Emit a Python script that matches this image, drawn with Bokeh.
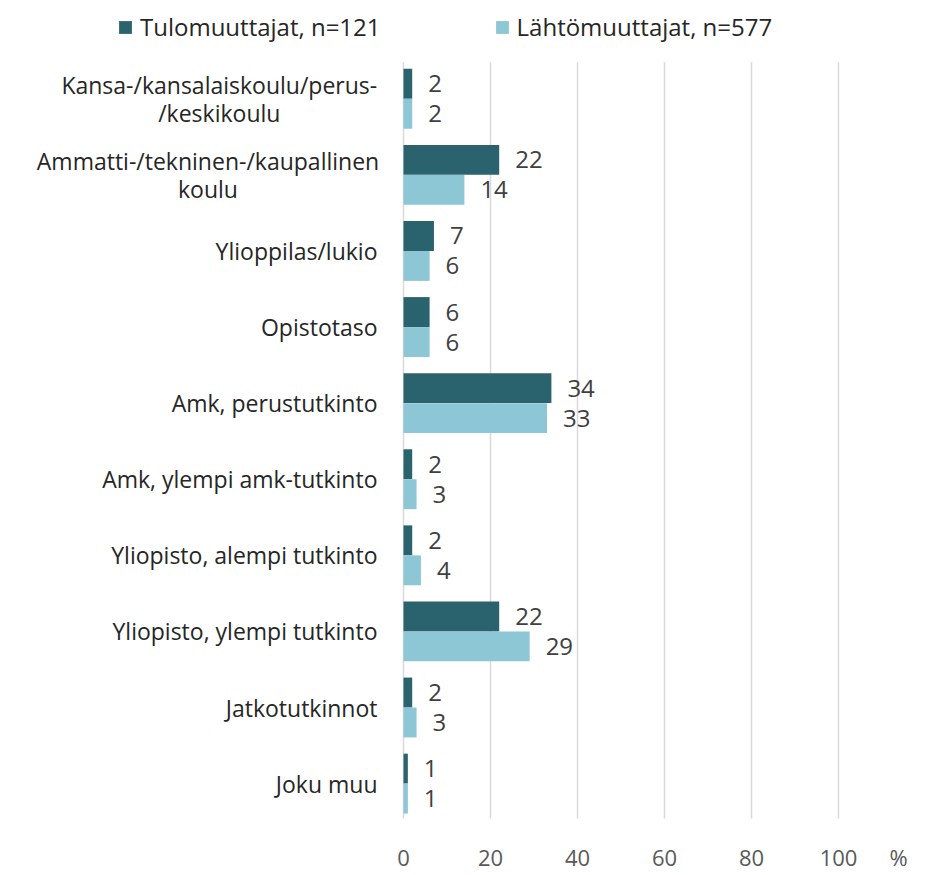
from bokeh.plotting import figure
from bokeh.models import (ColumnDataSource, Range1d, FixedTicker, Legend, LegendItem)
from bokeh.core.properties import value
from bokeh.embed import file_html
from bokeh.resources import INLINE

categories = [
    "Kansa-/kansalaiskoulu/perus-\n/keskikoulu",
    "Ammatti-/tekninen-/kaupallinen\nkoulu",
    "Ylioppilas/lukio",
    "Opistotaso",
    "Amk, perustutkinto",
    "Amk, ylempi amk-tutkinto",
    "Yliopisto, alempi tutkinto",
    "Yliopisto, ylempi tutkinto",
    "Jatkotutkinnot",
    "Joku muu",
]
tulo = [2, 22, 7, 6, 34, 2, 2, 22, 2, 1]
lahto = [2, 14, 6, 6, 33, 3, 4, 29, 3, 1]
series_names = ["Tulomuuttajat, n=121", "Lähtömuuttajat, n=577"]
ticks = [0, 20, 40, 60, 80, 100]
unit_label = "%"

DARK = "#2A636E"
LIGHT = "#8DC6D4"
FONT = "Open Sans"

W, H = 928, 874
PX_PER_UNIT = 4.35
X0_PX = 403
BORDER_R = 20
BORDER_B = 52
x_start = -X0_PX / PX_PER_UNIT
x_end = (W - BORDER_R - X0_PX) / PX_PER_UNIT
pct_pos = 113.8

n = len(categories)
frame_h = H - BORDER_B
row_px = 76.28
first_row_px = 98.5
y_top = -first_row_px / row_px
y_bot = (frame_h - first_row_px) / row_px

p = figure(width=W, height=H, output_backend="svg", toolbar_location=None,
           x_range=Range1d(x_start, x_end), y_range=Range1d(y_bot, y_top),
           min_border_left=0, min_border_right=BORDER_R, min_border_top=0,
           min_border_bottom=BORDER_B,
           outline_line_color=None, background_fill_color="white")

# vertical grid lines spanning the category area only
p.segment(x0=ticks, x1=ticks, y0=[-0.48] * len(ticks), y1=[n - 0.54] * len(ticks),
          line_color="#D9D9D9", line_width=1.5)

idx = list(range(n))
off = 0.197
bh = 0.393
src_d = ColumnDataSource(dict(y=[i - off for i in idx], v=tulo, lab=[str(v) for v in tulo]))
src_l = ColumnDataSource(dict(y=[i + off for i in idx], v=lahto, lab=[str(v) for v in lahto]))

r1 = p.hbar(y="y", right="v", left=0, height=bh, source=src_d, fill_color=DARK, line_color=None)
r2 = p.hbar(y="y", right="v", left=0, height=bh, source=src_l, fill_color=LIGHT, line_color=None)

for src in (src_d, src_l):
    p.text(x="v", y="y", text="lab", source=src, x_offset=16, text_align="left",
           text_baseline="middle", text_font=value(FONT), text_font_size="24px",
           text_color="#404040")

# category labels
RIGHT_OFF = -26
CHAR_W = 11.3
single_x, single_y, single_t = [], [], []
for i, c in enumerate(categories):
    lines = c.split("\n")
    if len(lines) == 1:
        single_x.append(0); single_y.append(i); single_t.append(c)
    else:
        w1 = len(lines[0]) * CHAR_W
        cx = RIGHT_OFF - w1 / 2
        for k, ln in enumerate(lines):
            p.text(x=[0], y=[i - 0.185 + k * 0.37], text=[ln], x_offset=cx,
                   text_align="center", text_baseline="middle", text_font=value(FONT),
                   text_font_size="23px", text_color="#262626")
p.text(x=single_x, y=single_y, text=single_t, x_offset=RIGHT_OFF, text_align="right",
       text_baseline="middle", text_font=value(FONT), text_font_size="23px",
       text_color="#262626")

p.yaxis.visible = False
p.ygrid.visible = False
p.xgrid.visible = False
p.xaxis.ticker = FixedTicker(ticks=ticks + [pct_pos])
p.xaxis.major_label_overrides = {pct_pos: unit_label}
p.xaxis.axis_line_color = None
p.xaxis.major_tick_line_color = None
p.xaxis.minor_tick_line_color = None
p.xaxis.major_label_standoff = 15
p.xaxis.major_label_text_font = FONT
p.xaxis.major_label_text_font_size = "22px"
p.xaxis.major_label_text_color = "#595959"

legend = Legend(items=[LegendItem(label=series_names[0], renderers=[r1]),
                       LegendItem(label=series_names[1], renderers=[r2])],
                orientation="horizontal", location=(117, frame_h - 45), spacing=113,
                label_text_font=FONT, label_text_font_size="24px", label_text_color="#262626",
                glyph_width=16, glyph_height=16, label_standoff=7, padding=0, margin=0,
                border_line_color=None, background_fill_alpha=0)
p.add_layout(legend, "center")

open("out.html", "w").write(file_html(p, INLINE))
